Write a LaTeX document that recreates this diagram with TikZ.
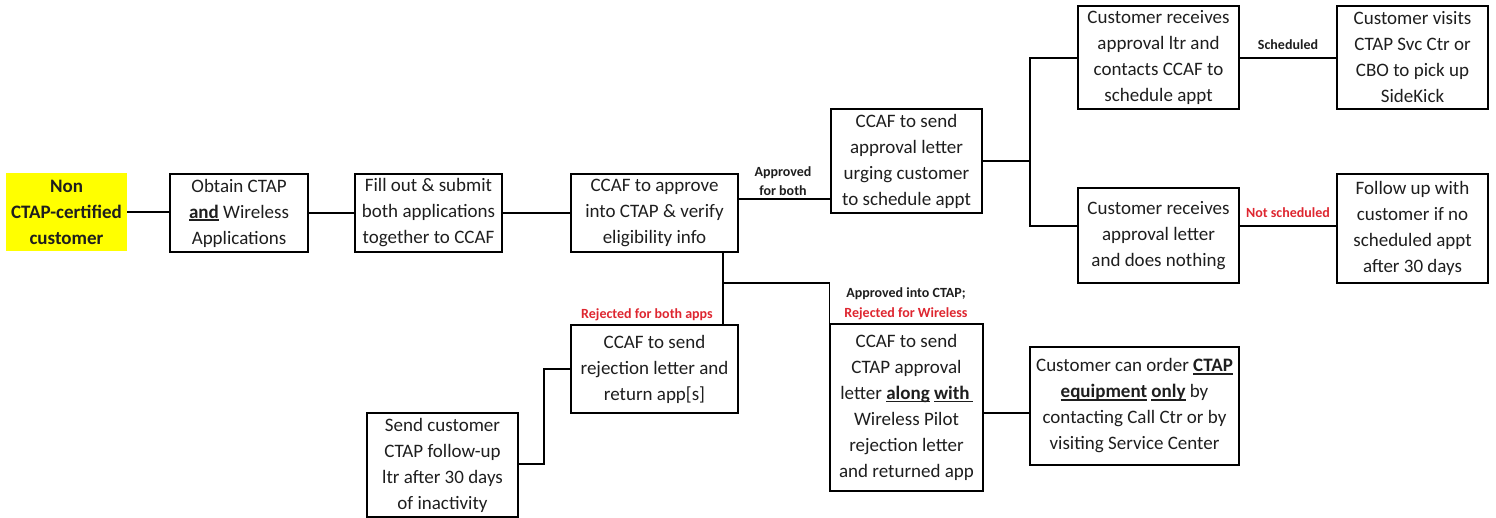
\documentclass[tikz,border=0pt]{standalone}
\usepackage{fontspec}
\setmainfont{Carlito}
\newcommand\myul[1]{\setbox0\hbox{\bfseries #1}\rlap{\rule[-2.6pt]{\wd0}{1.3pt}}\box0\relax}
\definecolor{lblred}{RGB}{222,38,48}
\definecolor{hiyellow}{RGB}{255,255,0}
\definecolor{txt}{RGB}{30,30,30}
\tikzset{
  box/.style={draw, line width=1.2pt, align=center, inner sep=0pt, text=txt,
    font=\fontsize{19}{26}\selectfont},
  startbox/.style={fill=hiyellow, align=center, inner sep=0pt, text=txt,
    font=\fontsize{19}{26}\selectfont\bfseries},
  lbl/.style={align=center, inner sep=0pt, text=txt, font=\fontsize{14}{19}\selectfont\bfseries},
  redlbl/.style={lbl, text=lblred},
  conn/.style={line width=1.2pt}
}
\begin{document}
\begin{tikzpicture}[x=1pt,y=-1pt]
\useasboundingbox (0,0) rectangle (1496,518);
% nodes
\node[startbox, minimum width=121pt, minimum height=78pt] (n1) at (66.5,212) {Non\\CTAP-certified\\customer};
\node[box, minimum width=138pt, minimum height=78pt] (n2) at (239,213) {Obtain CTAP\\\myul{and} Wireless\\Applications};
\node[box, minimum width=147pt, minimum height=78pt] (n3) at (428.5,213) {Fill out \& submit\\both applications\\together to CCAF};
\node[box, minimum width=167pt, minimum height=78pt] (n4) at (654.5,213) {CCAF to approve\\into CTAP \& verify\\eligibility info};
\node[box, minimum width=151pt, minimum height=104pt] (n5) at (906.5,161) {CCAF to send\\approval letter\\urging customer\\to schedule appt};
\node[box, minimum width=161pt, minimum height=103pt] (n6) at (1158.5,57.5) {Customer receives\\approval ltr and\\contacts CCAF to\\schedule appt};
\node[box, minimum width=151pt, minimum height=103pt] (n7) at (1412.5,57.5) {Customer visits\\CTAP Svc Ctr or\\CBO to pick up\\SideKick};
\node[box, minimum width=161pt, minimum height=95pt] (n8) at (1158.5,235.5) {Customer receives\\approval letter\\and does nothing};
\node[box, minimum width=151pt, minimum height=109pt] (n9) at (1412.5,228.5) {Follow up with\\customer if no\\scheduled appt\\after 30 days};
\node[box, minimum width=167pt, minimum height=88pt] (n10) at (654.5,369) {CCAF to send\\rejection letter and\\return app[s]};
\node[box, minimum width=151pt, minimum height=104pt] (n11) at (442.5,465) {Send customer\\CTAP follow-up\\ltr after 30 days\\of inactivity};
\node[box, minimum width=153pt, minimum height=167pt] (n12) at (906.5,407.5) {CCAF to send\\CTAP approval\\letter \myul{along} \myul{with\kern3pt}\\Wireless Pilot\\rejection letter\\and returned app};
\node[box, minimum width=209pt, minimum height=118pt] (n13) at (1134.5,406) {Customer can order \myul{CTAP}\\\myul{equipment} \myul{only} by\\contacting Call Ctr or by\\visiting Service Center};
% helper coordinates
\coordinate (j1) at (1030,161);
\coordinate (j2) at (723,283);
\coordinate (j3) at (544,369);
% connectors
\draw[conn] (n1.east) -- (n2.west |- n1.east);
\draw[conn] (n2.east) -- (n3.west);
\draw[conn] (n3.east) -- (n4.west);
\draw[conn] (n4.east |- 0,199) -- (n5.west |- 0,199);
\draw[conn] (n5.east |- j1) -- (j1);
\draw[conn] (n6.west |- 0,58) -| (j1 |- 0,226) -- (n8.west |- 0,226);
\draw[conn] (n6.east |- 0,58) -- (n7.west |- 0,58);
\draw[conn] (n8.east |- 0,226) -- (n9.west |- 0,226);
\draw[conn] (n4.south -| j2) -- (n10.north -| j2);
\draw[conn] (j2) -| (n12.north west);
\draw[conn] (n12.east |- 0,413) -- (n13.west |- 0,413);
\draw[conn] (n11.east |- 0,464) -| (j3) -- (n10.west);
% labels
\node[lbl] (l1) at (783,181.5) {Approved\\for both};
\node[lbl] (l2) at (1288,45) {Scheduled};
\node[redlbl] (l3) at (1288,213) {Not scheduled};
\node[redlbl] (l4) at (647,315) {Rejected for both apps};
\node[lbl] (l5) at (906,294) {Approved into CTAP;};
\node[redlbl] (l6) at (906,314) {Rejected for Wireless};
\end{tikzpicture}
\end{document}
